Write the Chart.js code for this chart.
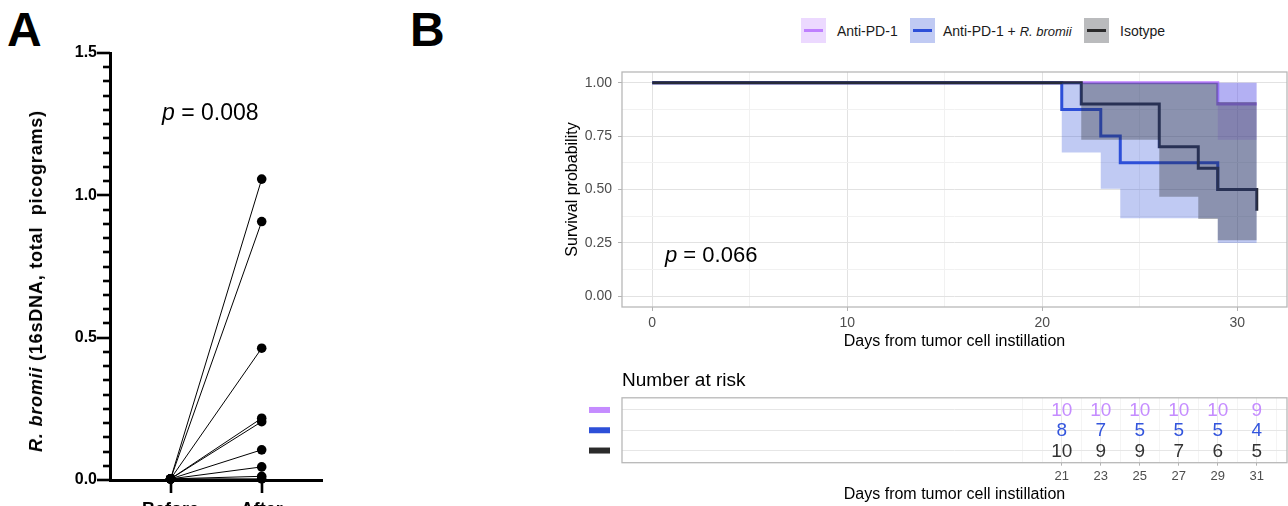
<!DOCTYPE html>
<html>
<head>
<meta charset="utf-8">
<script src="https://cdn.jsdelivr.net/npm/chart.js@4.4.1/dist/chart.umd.min.js"></script>
<style>
  html, body { margin: 0; padding: 0; background: #fff; }
  body { width: 1288px; height: 506px; overflow: hidden; position: relative;
         font-family: "Liberation Sans", Arial, Helvetica, sans-serif; color: #000; }
  .abs { position: absolute; white-space: pre; line-height: 1; }
  .panel { font-size: 48px; font-weight: bold; }
  .key { position: absolute; width: 25px; height: 25px; }
  .key span { position: absolute; left: 3px; right: 3px; top: 11px; height: 3px; }
  .leg { position: absolute; font-size: 14px; color: #1a1a1a; top: 23px; }
</style>
</head>
<body>

<div class="abs panel" style="left:7px; top:6px">A</div>
<div class="abs panel" style="left:410px; top:6px">B</div>

<!-- panel A -->
<canvas id="chartA" class="abs" width="330" height="530" style="left:0; top:0"></canvas>
<div class="abs" style="left:36px; top:281px; font-size:18px; font-weight:bold; letter-spacing:0.8px;
     transform: translate(-50%, -50%) rotate(-90deg)"><i>R. bromii</i> (16sDNA, total  picograms)</div>
<div class="abs" style="left:162px; top:101px; font-size:23px"><i>p</i> = 0.008</div>

<!-- panel B legend -->
<div class="key" style="left:801px; top:18px; background:rgba(191,128,255,0.3)"><span style="background:#BF80FF"></span></div>
<div class="leg" style="left:837px">Anti-PD-1</div>
<div class="key" style="left:910px; top:18px; background:rgba(45,79,216,0.3)"><span style="background:#2D4FD8"></span></div>
<div class="leg" style="left:943px">Anti-PD-1 + <i style="font-size:13px">R. bromii</i></div>
<div class="key" style="left:1084px; top:18px; background:rgba(40,42,50,0.32)"><span style="background:#2B2B2B"></span></div>
<div class="leg" style="left:1120px">Isotype</div>

<canvas id="chartB" class="abs" width="748" height="360" style="left:540px; top:0"></canvas>
<div class="abs" style="left:665px; top:244px; font-size:22px"><i>p</i> = 0.066</div>

<canvas id="chartC" class="abs" width="748" height="146" style="left:540px; top:360px"></canvas>

<script>
// ---- panel A: R. bromii before / after ----
const groups = ['Before', 'After'];
const beforeValues = [0.004, 0.004, 0.004, 0.004, 0.004, 0.004, 0.004, 0.004, 0.004];
const afterValues = [1.057, 0.908, 0.463, 0.217, 0.205, 0.106, 0.046, 0.013, 0.004];
const yTicksA = [0, 0.5, 1.0, 1.5];

// ---- panel B: Kaplan-Meier curves (time, survival, CI) ----
const kmTimesPD1 = [0, 29, 31];
const kmSurvPD1 = [1, 0.9, 0.9];
const kmLowerPD1 = [1, 0.733, 0.733];
const kmUpperPD1 = [1, 1, 1];

const kmTimesCombo = [0, 21, 23, 24, 29, 31];
const kmSurvCombo = [1, 0.875, 0.75, 0.625, 0.5, 0.5];
const kmLowerCombo = [1, 0.673, 0.503, 0.366, 0.25, 0.25];
const kmUpperCombo = [1, 1, 1, 1, 1, 1];

const kmTimesIso = [0, 22, 26, 28, 29, 31];
const kmSurvIso = [1, 0.9, 0.7, 0.6, 0.5, 0.4];
const kmLowerIso = [1, 0.733, 0.466, 0.362, 0.262, 0.262];
const kmUpperIso = [1, 1, 1, 1, 0.91, 0.91];

const xTicksKM = [0, 10, 20, 30];
const yTicksKM = [0, 0.25, 0.5, 0.75, 1];

// ---- number at risk ----
const riskTimes = [21, 23, 25, 27, 29, 31];
const riskPD1 = [10, 10, 10, 10, 10, 9];
const riskCombo = [8, 7, 5, 5, 5, 4];
const riskIso = [10, 9, 9, 7, 6, 5];

const colPD1 = '#BF80FF', colCombo = '#2D4FD8', colIso = '#262A38';
const fillPD1 = 'rgba(191,128,255,0.30)', fillCombo = 'rgba(45,79,216,0.30)', fillIso = 'rgba(40,42,50,0.35)';
const riskTextColors = ['#C58CFF', '#3355DD', '#333333'];
const riskKeyColors = ['#C58CFF', '#2D4FD8', '#2B2B2B'];

Chart.defaults.font.family = '"Liberation Sans", Arial, Helvetica, sans-serif';
Chart.defaults.animation = false;

// prism style tick marks: long ones at labelled values, short every 0.05
const prismTicksA = {
    id: 'prismTicksA',
    afterDatasetsDraw(chart) {
        const { ctx, chartArea, scales } = chart;
        const y = scales.y, x = scales.x;
        const tick = (x1, y1, x2, y2) => {
            ctx.beginPath();
            ctx.moveTo(x1, y1);
            ctx.lineTo(x2, y2);
            ctx.stroke();
        };
        ctx.save();
        ctx.strokeStyle = '#000';
        ctx.lineWidth = 2.6;
        for (let k = 0; k <= 30; k++) {
            const py = Math.round(y.getPixelForValue(k * 0.05));
            const len = k % 10 === 0 ? 13 : 7;
            tick(chartArea.left - len, py, chartArea.left, py);
        }
        groups.forEach((g, i) => {
            const px = Math.round(x.getPixelForValue(i));
            tick(px, chartArea.bottom, px, chartArea.bottom + 13);
        });
        ctx.restore();
    }
};

const pairDatasets = afterValues.map((v, i) => ({
    data: [{ x: 0, y: beforeValues[i] }, { x: 1, y: v }],
    showLine: true,
    borderColor: '#000',
    borderWidth: 1,
    pointRadius: 4.8,
    pointBackgroundColor: '#000',
    pointBorderWidth: 0,
    clip: false
}));

new Chart(document.getElementById('chartA'), {
    type: 'scatter',
    data: { datasets: pairDatasets },
    options: {
        responsive: false,
        layout: { padding: { top: 53, right: 8, bottom: 0, left: 0 } },
        plugins: { legend: { display: false }, tooltip: { enabled: false } },
        scales: {
            x: {
                min: -0.665, max: 1.662,
                afterBuildTicks: s => { s.ticks = groups.map((g, i) => ({ value: i })); },
                afterFit: s => { s.height = 50; },
                ticks: { callback: v => groups[v], font: { size: 18, weight: 'bold' }, color: '#000', padding: 19, maxRotation: 0 },
                grid: { drawOnChartArea: false, drawTicks: false },
                border: { color: '#000', width: 3 }
            },
            y: {
                min: 0, max: 1.5,
                afterBuildTicks: s => { s.ticks = yTicksA.map(v => ({ value: v })); },
                afterFit: s => { s.width = 110; },
                ticks: { callback: v => v.toFixed(1), font: { size: 16, weight: 'bold' }, color: '#000', padding: 13 },
                grid: { drawOnChartArea: false, drawTicks: false },
                border: { color: '#000', width: 3 }
            }
        }
    },
    plugins: [prismTicksA]
});

// panel frame (ggplot panel border)
const framePlugin = {
    id: 'frame',
    afterDatasetsDraw(chart) {
        const a = chart.chartArea;
        const ctx = chart.ctx;
        ctx.save();
        ctx.strokeStyle = '#B8B8B8';
        ctx.lineWidth = 1.3;
        ctx.strokeRect(a.left, a.top, a.right - a.left, a.bottom - a.top);
        ctx.restore();
    }
};

const pts = (xs, ys) => xs.map((x, i) => ({ x: x, y: ys[i] }));
const band = (xs, ys, fill, bg) => ({
    data: pts(xs, ys), stepped: 'before', pointRadius: 0,
    borderWidth: 0, borderColor: 'rgba(0,0,0,0)', fill: fill, backgroundColor: bg
});
const curve = (xs, ys, color) => ({
    data: pts(xs, ys), stepped: 'before', pointRadius: 0,
    borderWidth: 3, borderColor: color, fill: false
});

new Chart(document.getElementById('chartB'), {
    type: 'line',
    data: {
        datasets: [
            band(kmTimesIso, kmUpperIso, 1, fillIso),
            band(kmTimesIso, kmLowerIso, false, 'transparent'),
            band(kmTimesCombo, kmUpperCombo, 3, fillCombo),
            band(kmTimesCombo, kmLowerCombo, false, 'transparent'),
            band(kmTimesPD1, kmUpperPD1, 5, fillPD1),
            band(kmTimesPD1, kmLowerPD1, false, 'transparent'),
            curve(kmTimesIso, kmSurvIso, colIso),
            curve(kmTimesCombo, kmSurvCombo, colCombo),
            curve(kmTimesPD1, kmSurvPD1, colPD1)
        ]
    },
    options: {
        responsive: false,
        layout: { padding: { top: 72, right: 1, bottom: 0, left: 0 } },
        plugins: { legend: { display: false }, tooltip: { enabled: false } },
        scales: {
            x: {
                type: 'linear', min: -1.55, max: 32.55,
                afterBuildTicks: s => { s.ticks = [0, 5, 10, 15, 20, 25, 30].map(v => ({ value: v })); },
                afterFit: s => { s.height = 53; },
                ticks: { callback: v => xTicksKM.includes(v) ? String(v) : '', color: '#4D4D4D', font: { size: 14 }, padding: 4, maxRotation: 0, autoSkip: false },
                grid: {
                    color: c => xTicksKM.includes(c.tick.value) ? '#E2E2E2' : '#F1F1F1',
                    tickColor: c => xTicksKM.includes(c.tick.value) ? '#B3B3B3' : 'rgba(0,0,0,0)',
                    tickLength: 4
                },
                border: { display: false },
                title: { display: true, text: 'Days from tumor cell instillation', color: '#000', font: { size: 16 }, padding: { top: 0, bottom: 9 } }
            },
            y: {
                type: 'linear', min: -0.05, max: 1.05,
                afterBuildTicks: s => { s.ticks = [0, 0.125, 0.25, 0.375, 0.5, 0.625, 0.75, 0.875, 1].map(v => ({ value: v })); },
                afterFit: s => { s.width = 82; },
                ticks: { callback: v => yTicksKM.includes(v) ? v.toFixed(2) : '', color: '#4D4D4D', font: { size: 14 }, padding: 6, autoSkip: false },
                grid: {
                    color: c => yTicksKM.includes(c.tick.value) ? '#E2E2E2' : '#F1F1F1',
                    tickColor: c => yTicksKM.includes(c.tick.value) ? '#B3B3B3' : 'rgba(0,0,0,0)',
                    tickLength: 4
                },
                border: { display: false },
                title: { display: true, text: 'Survival probability', color: '#000', font: { size: 16 }, padding: { top: 23, bottom: 0 } }
            }
        }
    },
    plugins: [framePlugin]
});

// number at risk table: numbers sit on the points of each row dataset
const riskRows = [riskPD1, riskCombo, riskIso];
const riskLabels = {
    id: 'riskLabels',
    afterDatasetsDraw(chart) {
        const ctx = chart.ctx;
        const y = chart.scales.y;
        const x = chart.scales.x;
        ctx.save();
        ctx.font = '19px "Liberation Sans", Arial, sans-serif';
        ctx.textAlign = 'center';
        ctx.textBaseline = 'middle';
        chart.data.datasets.forEach((ds, r) => {
            const meta = chart.getDatasetMeta(r);
            ctx.fillStyle = riskTextColors[r];
            meta.data.forEach((pt, i) => ctx.fillText(String(ds.data[i].n), pt.x, pt.y + 1));
            // coloured key left of the table
            ctx.fillStyle = riskKeyColors[r];
            ctx.fillRect(x.left - 33, y.getPixelForValue(r + 1) - 3, 21, 6);
        });
        ctx.restore();
    }
};

new Chart(document.getElementById('chartC'), {
    type: 'scatter',
    data: {
        datasets: riskRows.map((row, r) => ({
            data: riskTimes.map((t, i) => ({ x: t, y: r + 1, n: row[i] })),
            pointRadius: 0
        }))
    },
    options: {
        responsive: false,
        layout: { padding: { top: 0, right: 1, bottom: 0, left: 0 } },
        plugins: {
            legend: { display: false }, tooltip: { enabled: false },
            title: { display: true, text: 'Number at risk', align: 'start', fullSize: false, color: '#000',
                     font: { size: 19, weight: 'normal' }, padding: { top: 9, bottom: 6 } }
        },
        scales: {
            x: {
                type: 'linear', min: -1.55, max: 32.55,
                afterBuildTicks: s => { const t = []; for (let d = 19; d <= 32; d++) t.push({ value: d }); s.ticks = t; },
                afterFit: s => { s.height = 43.3; },
                ticks: { callback: v => riskTimes.includes(v) ? String(v) : '', color: '#4D4D4D', font: { size: 13 }, padding: 3, maxRotation: 0, autoSkip: false },
                grid: {
                    color: c => riskTimes.includes(c.tick.value) ? '#EBEBEB' : '#F4F4F4',
                    tickColor: c => riskTimes.includes(c.tick.value) ? '#B3B3B3' : 'rgba(0,0,0,0)',
                    tickLength: 3
                },
                border: { display: false },
                title: { display: true, text: 'Days from tumor cell instillation', color: '#000', font: { size: 16 }, padding: { top: 0, bottom: 1.4 } }
            },
            y: {
                type: 'linear', min: 0.4, max: 3.6, reverse: true,
                afterBuildTicks: s => { s.ticks = [1, 2, 3].map(v => ({ value: v })); },
                afterFit: s => { s.width = 82; },
                ticks: { callback: () => '' },
                grid: { color: '#E6E6E6', drawTicks: false },
                border: { display: false }
            }
        }
    },
    plugins: [framePlugin, riskLabels]
});
</script>
</body>
</html>
